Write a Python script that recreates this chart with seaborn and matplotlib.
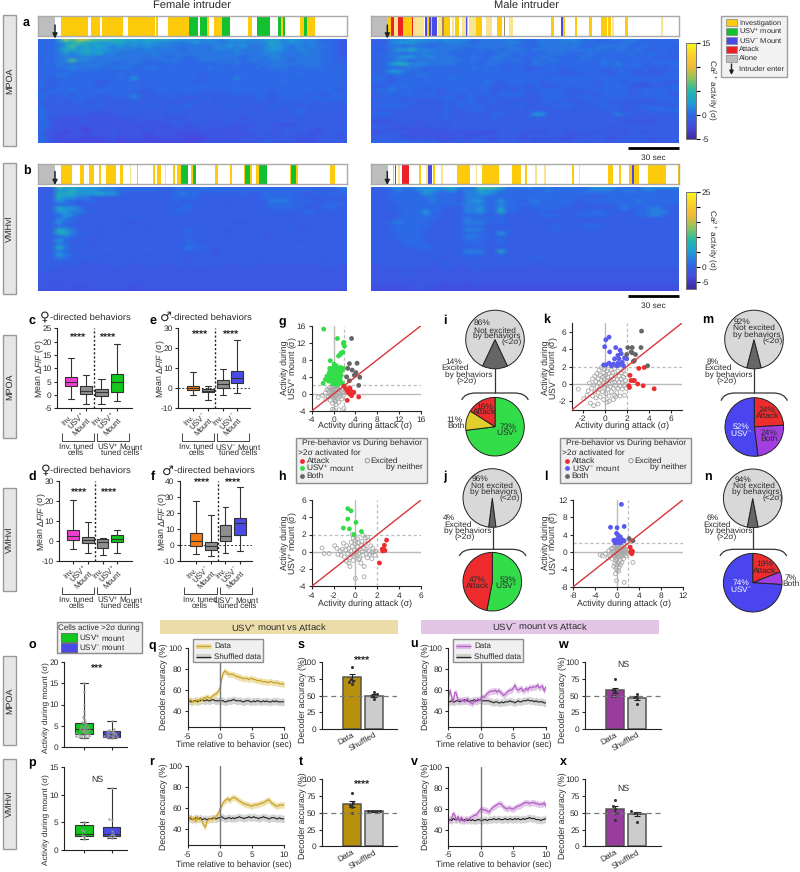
import numpy as np
import pandas as pd
import seaborn as sns
import matplotlib
matplotlib.use("Agg")
import matplotlib.pyplot as plt
from matplotlib.colors import LinearSegmentedColormap
from matplotlib.patches import Rectangle, PathPatch
from matplotlib.path import Path

# Behavior timelines (sec, out of 180)
female_a = {
    "inv": [(13.6, 29.1), (31.1, 36.1), (37.3, 49.3), (52.6, 68), (68.7, 70.1), (75.7, 88.2), (98.5, 99.8),
            (102.9, 107), (122.3, 125), (141.8, 142.7), (152.8, 155.2), (157.1, 161.4)],
    "usvp": [(88.2, 93.2), (94.6, 98.5), (107, 111.7), (127.6, 135.5), (140.2, 141.8), (142.7, 144.1), (155.2, 157.1)],
}
male_a = {
    "inv": [(9.7, 11.7), (18.7, 23.9), (36, 36.2), (43, 46.3), (49.2, 51.5), (56.2, 57), (61.6, 64.7), (68.5, 69.5),
            (73.9, 76.8), (81, 81.6), (105.2, 106.9), (110.8, 111.2), (112.4, 113.3), (119.4, 120.5), (127.5, 128.9),
            (134.3, 137.6), (138.6, 140), (148.5, 149.9), (32.9, 34), (35.2, 36)],
    "pale": [(13.6, 15.7), (24.7, 31.3), (39.1, 41.4), (47.2, 48.8), (53.1, 55.4), (57.3, 61.4), (67.3, 71), (80.5, 82.8),
             (140.6, 141.7), (169.1, 170.5)],
    "usvm": [(31.7, 32.9), (34, 35.2), (36, 38.5), (55.6, 56.2), (111.2, 112.4)],
    "attack": [(11.7, 13.6), (15.7, 18.7), (24.1, 24.7)],
    "mix": [(41.6, 43), (77.8, 78.3)],
}
female_b = {
    "inv": [(13.6, 20), (24.3, 26.8), (29.7, 32.4), (35.3, 36.7), (39.6, 45.2), (48, 49.7), (57.7, 58.5), (67.2, 68.2),
            (69.5, 71.9), (79, 79.8), (81, 83.1), (89.3, 90.3), (103.3, 104.7), (112.2, 113.4), (120.2, 120.8),
            (123.9, 124.5), (127.2, 128.6), (147, 147.6), (150.7, 151.7), (170.5, 173.2)],
    "pale": [(53.4, 54.2), (74, 74.6)],
    "usvp": [(83.1, 87.2), (90.3, 92.4), (120.8, 123.9), (128.6, 133.8), (147.6, 150.7)],
}
male_b = {
    "inv": [(13.2, 13.8), (28, 29.4), (36.2, 37.3), (50.2, 58.1), (64.9, 74.6), (82.4, 87.7), (90, 91.2), (117.6, 118.8),
            (138.6, 141.1), (145, 146.2), (150.7, 152.2), (153.6, 156.5), (161.9, 172), (179.2, 180)],
    "pale": [(16.1, 16.9), (32.1, 33.2), (41, 42.2), (61.2, 62.2), (95.8, 96.8), (101.3, 102.3), (121.3, 122.1)],
    "usvm": [(14, 15), (33.2, 36), (152.2, 153.6)],
    "attack": [(18.3, 22.4)],
}
alone_sec = (0, 10)

# Heatmap cells as hex levels, each row is one band of cells, each char about 4 sec
levels_a = [-3.5, -2.5, -1.6, -0.8, 0, 0.7, 1.4, 2.4, 3.8, 6, 9]
levels_b = [-4.5, -3.2, -2.2, -1.2, -0.2, 1, 2.5, 4.5, 7, 11, 17]
heat_female_a = [
    "4447a9aa99988887888877766766777667776775654433",
    "4446889887788777776665676665666666876766654432",
    "4445797878767676766655555566767556776565655433",
    "4446887877766655655554555566565556776566554433",
    "4445767878665555565555555555565556665556554432",
    "4445656665555555555455455555554555665555554443",
    "3445696655555555445554445555554555565455554433",
    "4445555555544554444454444445454445555555554444",
    "4445565555455544554444444544444454555445554444",
    "3444454544444444444444444444444444445444444443",
    "4445544444445444444444443444444444444454444444",
    "3434444444444474444444443444464444444444444444",
    "4434444443344443444444434444444444445444444443",
    "4434444443444444444444444444444444444444444444",
    "4344454444444444344444444444444444444444444434",
    "4444444344444443344434443333444444344444434444",
    "4433434443344464333443334334343344344443443443",
    "4434344334333343334333333433334344334444444444",
    "3333334333333333433333433334333333343334333333",
    "4433333434333343343434433333433333433433343433",
    "4433333333333333333343333333333333333344333333",
    "4433333322233333333333333333333333333343333333",
    "4423222222222323333232333333332333333333333333",
    "3432223322222233223333333323333333333333333333",
    "4432222222322222222233233233323233322233333333",
    "4422222122222222322222223322222333333333323333",
    "4322122122232222222222222222222333323333223333",
    "4321222222232222122221112232222233233323233323",
    "4422121111221222112122111222223323333322233333",
    "4421111111111111111111112222222233322222223333",
]
heat_male_a = [
    "4445667767676664555555444555666454455555445444",
    "3336777665566654555566544655656544444554444444",
    "4445545544555555555555444555555445555544544443",
    "4335778666555544545455545555555555545545434434",
    "4445545565554444444554544455544454444454454444",
    "3345677566555445445554444554444554444444443433",
    "4444654555555545445545435455444444544444444444",
    "4347886665555444455444445544444444546445344444",
    "4444455544444445444434433444344444444444434344",
    "3347754444444444454444434444334444334433433343",
    "4444544554444444444444444434334344434443333444",
    "4443444444445444444444444444444444444444444444",
    "4443444444444444454344444344444443444344344333",
    "3334454444444444443344434333444443444432233344",
    "4446444434344443443333434444434344444434444444",
    "4444444344334444443444433444433333444433444433",
    "3344344444444344343444433444434443444444444433",
    "4443433333344344334333333344333344434333334444",
    "3344434333343444344333433443443333433333333334",
    "4444443333343434433343433334443434444334444434",
    "3333333333343334433333333333333333333333344445",
    "4444333333343333334433337733333333336433333333",
    "3333333333343333334333343333333333333333333334",
    "2222333233323333333333333333333333333323223333",
    "3333333333334333333333333333333333333333333333",
    "3332222222323333333333333333333333323333333333",
    "2233332222223222222333323233323332333233233333",
    "3333322222222322323333233333323233323333333333",
    "3333332323222323332333232323223333323333323333",
    "4444454444333333333333333333333333333333333333",
]
heat_female_b = [
    "4449887777665555554556556655555555555555555566",
    "4447787776665555554455555555555555555555544455",
    "4448887778775444444456554444445445555544454555",
    "4448776644444444444455554444444445555554444444",
    "4447654554444444444454444443444444666545444444",
    "4445554444444444444444544444444444555554445554",
    "4448776444444444344445544444344444555544445544",
    "4447766544444444444455444444444444444445544444",
    "4445765444443444444444444444444444444444444444",
    "4446654444444444444444444444444444444344444444",
    "4447554444444334444444444444433444444444444444",
    "4445544444443444444444444444444444444444444444",
    "4448764443444444344444544444344444344433444444",
    "4448865444444344444444544444344444444444444444",
    "4445654443444444444444444444444443344444444444",
    "4447544434444444344444544444344444444433444444",
    "4446544444444444444444544444444444444444444444",
    "4448644434444344444444655444434444444444444444",
    "4446544444444444444444444434444444444444444444",
    "4447654444344444344444444434444444344434444444",
    "4446544443444434444444344444444434444444443444",
    "4444444344444444444444344444444444444444444444",
    "4444433343344333343344344433333433333333344433",
    "4443333333333333333333333333333333333333333333",
    "3333333333333333333333333333333333333333333333",
    "3333333333333333333333333333333333333333333333",
    "3333333333333333333333333333333333333333333333",
    "3332333333333333333333333333333333333333333333",
    "3333332333333323333333333333333333333333333333",
    "2222222222222222222222222222222222222222222222",
]
heat_male_b = [
    "5556766767788766999866676665666567776555777777",
    "4445655677667566877655555565555566665665665555",
    "4445555576555466776555555555555555555555555555",
    "4445555556555466655555555555555544555555555555",
    "4444555556555467755755456555554455555556555555",
    "4444555555555566655655555555554444445555555554",
    "4444455555544466755755445555444444445655566444",
    "4444555575544466755855444544444455544445566644",
    "4443455565444455544544444555445555544445566444",
    "4444555555444465555544444444444444444444444444",
    "4445655554444466654544444444444444444444444444",
    "4444555554444455544444444445444555444444444444",
    "4445555544444466644444444445444444444444444444",
    "4444555544444455544754444444444444444444444444",
    "4444555544444466554544444444444444444444444444",
    "4444455544444455544544444444444444444444444444",
    "4444455554444455544544444444444444444444444444",
    "4444444555444444444444444444444444444444444444",
    "4444444444444466644844444444444444444444444444",
    "4444444444444455544544444444444444444444444444",
    "4444444444434444444444445444444444444444444444",
    "4444444443444444444444444444444444444444444444",
    "3344444444344344444444443344444444444444444444",
    "3333333333343334433333333333333333333333333333",
    "3333344333333333333333333333333333333333333333",
    "3333333333333333333333333333333333333333333333",
    "3333333333333333333333333333333333333333333333",
    "3333333333323323333333333333333333333333333333",
    "2222223332222222222222222222222222222222222222",
    "2222222222222222222222222222222222222222222222",
]

# Box summaries: min, q1, median, q3, max
box_c = [[-1.5, 3.2, 5, 6.6, 14], [-3.5, 0.2, 1.6, 3.5, 7.4], [-3.5, -0.4, 1.2, 2.1, 5.8], [-2.4, 1.2, 4.7, 8, 19.2]]
box_e = [[-3.6, -1, 0.3, 1.3, 8], [-6, -2, -1.2, -0.5, 1.2], [-3.2, 0.3, 2.2, 4, 9.8], [-2.5, 2.8, 5, 8.5, 24]]
box_d = [[-4, 0.5, 2.8, 5.5, 20.5], [-6, -1, 0.5, 2, 9.6], [-6.8, -3.2, -0.5, 1, 1.8], [-6, -0.5, 1, 3.2, 5.6]]
box_f = [[-5.5, -0.5, 2.5, 7.5, 28], [-6.5, -3, -0.2, 2, 19], [-4.8, 2.5, 6, 13, 24], [-3.5, 6.5, 14, 17, 36.5]]
box_o = [[2, 2.9, 4.3, 5.7, 15], [2, 2.3, 3, 3.8, 6]]
box_p = [[2, 2.5, 3, 4.5, 5], [2.2, 2.5, 3, 4.1, 11.1]]
cells_o_p = [2.1, 2.2, 2.3, 2.4, 2.5, 2.6, 2.7, 2.8, 2.9, 3, 3.1, 3.2, 3.4, 3.5, 3.7, 3.9, 4, 4.2, 4.3, 4.5, 4.7, 4.9, 5,
             5.3, 5.5, 5.8, 6, 6.5, 7, 7.5, 8.5, 10, 13, 15]
cells_o_m = [2, 2.1, 2.2, 2.3, 2.4, 2.5, 2.6, 2.7, 2.9, 3, 3.1, 3.2, 3.4, 3.5, 3.7, 3.8, 4, 4.2, 6]
cells_p_p = [2, 2.5, 2.8, 3.4, 3.6, 5]
cells_p_m = [2.2, 2.3, 2.5, 2.7, 3, 3.5, 5.5, 5.7, 11.1]

# Scatter points (attack activity, mount activity)
g_usv = [(-1.8, 15.2), (0.7, 13), (1.8, 11.8), (2, 11.2), (1.9, 12.1), (1.7, 9.8), (1.2, 9.2), (0.9, 8.9), (1.4, 9.6),
         (-0.6, 7.8), (0.1, 7), (-0.7, 6), (-0.4, 5.6), (0, 6.2), (0.3, 5.8), (0.5, 6.6), (0.8, 5.6), (1, 6), (1.3, 6.2),
         (1.5, 5.4), (1.8, 6), (-0.8, 5), (-0.4, 4.6), (-0.1, 5), (0.2, 4.8), (0.5, 5.2), (0.8, 4.6), (1.1, 5), (1.4, 4.4),
         (-1.2, 4.2), (-0.7, 3.8), (-0.3, 4), (0, 3.6), (0.3, 4.2), (0.6, 3.8), (0.9, 4), (1.2, 3.6), (-1.5, 3.4), (-0.9, 3),
         (-0.5, 3.2), (-0.1, 2.9), (0.3, 3.1), (0.7, 3), (1, 3.2), (1.4, 2.8), (-1.9, 2.5), (-0.2, 2.4), (0.4, 2.5), (0.8, 2.3),
         (1.1, 2.6), (1.6, 2.4), (0.5, 2.2)]
g_att = [(2.2, 1.3), (2.4, 0.9), (2.6, 0.4), (2.8, 1.1), (2.9, 0.2), (3.1, -0.1), (3.2, 0.6), (3.3, -0.4), (2.5, -1.5),
         (3.7, 0.4), (4.6, -0.7), (1.9, 1.8), (3, 1.4)]
g_both = [(3.3, 13), (2.9, 7.1), (4.3, 7.2), (2.6, 6), (3.4, 5.6), (4.1, 5), (2.4, 4), (4.8, 3.9), (3.8, 4.4), (2.9, 3.1), (4.6, 2)]
g_none = [(-2.8, -0.8), (-2, -0.3), (-1.5, 0.2), (-1.2, 1.1), (-1, -0.8), (-0.8, 0.5), (-0.7, 1.5), (-0.6, -1.5), (-0.5, 0.3),
          (-0.4, 1), (-0.3, -0.4), (-0.3, 1.8), (-0.2, -2.2), (-0.2, 0.6), (-0.1, 1.4), (0, -0.9), (0, 0.2), (0.1, 1), (0.1, -3.8),
          (0.2, 1.7), (0.2, -1.4), (0.3, 0.4), (0.4, -0.5), (0.4, 1.2), (0.5, -2.5), (0.5, 0.8), (0.6, -0.2), (0.7, 1.6), (0.7, -1),
          (0.8, 0.3), (0.9, -0.7), (1, 1), (1, -3.7), (1.1, 0.1), (1.2, 1.7), (1.3, -0.5), (1.4, 0.6), (1.5, -1.2), (1.6, 0.2),
          (1.7, 1.3), (1.8, -0.3), (1.9, -3.4), (-0.5, -0.6), (-0.1, -0.2), (0.3, -1.8), (0.6, 1.9), (-0.9, 0.9), (-1.4, -1.2),
          (0.9, -2), (-0.2, -3.6)]
h_usv = [(-0.7, 5), (-0.4, 4.75), (-0.7, 3.8), (0.05, 3.4), (-1.1, 2.75), (-0.55, 2.65), (0.55, 2.35), (-0.15, 2)]
h_att = [(2.85, 1.35), (2.65, 0.75), (2.45, 0.3), (2.6, 0.3), (2.7, 0.15), (2.5, 0.1), (2.2, -1.3)]
h_none = [(-3.05, 0.45), (-2.85, -0.2), (-2.4, -0.2), (-1.9, 0.7), (-1.7, 0.4), (-1.6, -0.3), (-1.4, 0.1), (-1.3, -0.4), (-1.2, 0.3),
          (-1.1, 1), (-1, -0.6), (-0.9, 0.2), (-0.8, 0.7), (-0.7, -0.2), (-0.6, -1.3), (-0.6, 0.4), (-0.5, -0.7), (-0.4, 0.1), (-0.4, 1.1),
          (-0.3, -0.3), (-0.3, 0.6), (-0.2, 1.6), (-0.2, -1), (-0.1, 0.2), (-0.1, -0.5), (0, 0.9), (0, -3.1), (0, 1.3), (0.1, 0), (0.1, -0.4),
          (0.2, 0.6), (0.2, 1.5), (0.3, -0.2), (0.3, 1), (0.4, -0.8), (0.4, 0.3), (0.5, 0.8), (0.5, -1.3), (0.6, 0), (0.6, 1.2), (0.7, -0.4),
          (0.8, 0.4), (0.8, -2.9), (0.8, -1.7), (0.9, 0.9), (1, -0.2), (1, 0.3), (1.1, -0.7), (1.2, 1.3), (1.2, 0.1), (1.3, -0.3), (1.4, 0.7),
          (1.5, -0.1), (1.5, -0.8), (1.6, 0.4), (1.7, 0), (1.8, -0.4), (1.9, 0.1), (-0.3, 2), (-0.1, 1.9), (0.9, 1.6), (1.1, 1.7), (-0.5, -1.7),
          (-0.8, -1.1), (0.3, -0.9), (0.7, 1.9)]
k_usv = [(0.4, 5.4), (0.1, 5.1), (0, 4.3), (1, 4.2), (1.4, 3.9), (0.45, 3.7), (1.5, 3.5), (1.2, 3.3), (1.8, 3), (2, 2.9), (1.3, 2.9), (0.9, 2.9),
         (1.6, 2.5), (1.2, 2.4), (0.8, 2.3), (0.4, 2.4), (-0.1, 2.2), (0.1, 2.2), (1.3, 2.2), (1.7, 2.1), (1.1, 2.1), (0.6, 2.1)]
k_att = [(3.1, 1.8), (3.6, 1.9), (2.3, 1), (2.4, 0.4), (2.6, 0.4), (2.7, 0.4), (3, 0), (3.5, -0.2), (2.2, -0.2), (2.25, -0.4), (4.5, -0.55)]
k_both = [(3.35, 6.1), (2.1, 4.2), (2.5, 4.2), (3.3, 4.2), (2.4, 3.7), (2.5, 3.6), (2, 3.4), (2.8, 3.4), (2.7, 2.7), (2.6, 2.6), (3.9, 2.1)]
k_none = [(-2.4, -0.6), (-1.9, -1.7), (-1.6, -1.3), (-1.5, -0.8), (-1.4, 0.1), (-1.3, -2.2), (-1.2, -0.5), (-1.1, 0.6), (-1.1, -1.4), (-1, -0.1),
          (-1, -2.5), (-0.9, 0.9), (-0.9, -0.9), (-0.8, 0.3), (-0.8, -1.6), (-0.7, 1.2), (-0.7, -0.3), (-0.6, 0.6), (-0.6, -1), (-0.6, -2.3), (-0.5, 1.6),
          (-0.5, 0.1), (-0.5, -0.6), (-0.4, 1), (-0.4, -1.5), (-0.3, 0.4), (-0.3, -0.2), (-0.3, 1.9), (-0.2, 0.8), (-0.2, -0.9), (-0.1, 1.3), (-0.1, 0.2),
          (-0.1, -1.8), (0, 0.6), (0, -0.4), (0, 1.7), (0.1, 1), (0.1, -1.1), (0.1, -0.1), (0.2, 0.3), (0.2, 1.5), (0.2, -2.1), (0.3, 0.8), (0.3, -0.6), (0.4, 1.2),
          (0.4, 0), (0.4, -1.4), (0.5, 0.5), (0.5, -0.3), (0.6, 1.6), (0.6, 0.9), (0.6, -0.9), (0.7, 0.1), (0.7, 1.3), (0.8, -0.5), (0.8, 0.6), (0.9, 1.8), (0.9, -1.3),
          (0.9, 0.2), (1, 1), (1, -0.2), (1.1, 0.5), (1.1, -1), (1.2, 1.5), (1.2, -0.5), (1.3, 0.2), (1.3, 0.9), (1.4, -0.2), (1.4, -1.4), (1.5, 0.6), (1.5, 1.3),
          (1.6, -0.6), (1.6, 0.1), (1.7, 0.8), (1.7, 1.6), (1.8, -0.1), (1.8, -1.3), (1.9, 0.4), (1.9, 1.1), (2, -0.5), (1, -1.5), (0.4, -2), (0.8, -1.8)]
l_usv = [(0.8, 11), (-1.2, 5.7), (0, 5.6), (1.3, 5.9), (-0.1, 4.3), (0.2, 3.9), (0.3, 3.3), (0.6, 3.5), (-0.6, 2.7), (-0.4, 2.3), (-0.2, 2.8), (0, 2.3),
         (0.2, 2.8), (0.4, 2.4), (0.6, 2.7), (0.8, 2.3), (1, 2.8), (1.3, 2.6), (0.5, 2.1), (-0.3, 2.1)]
l_att = [(2.4, 1.1), (2.6, 0.3), (2.7, -0.1), (2.7, -0.4), (2.5, 0), (2.8, 0.2)]
l_both = [(2.2, 3.1), (2.9, 2.6)]
l_none = [(-3.1, -0.6), (-2.7, -0.9), (-2.1, -0.4), (-1.7, -1.4), (-1.5, 0.3), (-1.3, -0.9), (-1.1, 0.7), (-1, -0.3), (-0.9, -1.5), (-0.8, 0.9),
          (-0.7, 0), (-0.6, -0.8), (-0.5, 1.3), (-0.5, 0.3), (-0.4, -1.2), (-0.3, 0.7), (-0.3, -0.4), (-0.2, 1.7), (-0.2, -2), (-0.1, 0.2), (-0.1, -0.9), (0, 1.1),
          (0, -3), (0, -1.6), (0.1, 0.5), (0.1, -0.3), (0.2, -2.5), (0.2, 1.5), (0.3, -1.2), (0.3, 0.1), (0.4, 1), (0.4, -3.5), (0.5, -0.7), (0.5, 0.4), (0.6, -1.9),
          (0.6, 1.6), (0.7, 0), (0.7, -1.1), (0.8, 0.8), (0.8, -0.4), (0.9, -2.4), (0.9, 0.3), (1, 1.3), (1, -0.9), (1.1, -0.1), (1.1, 0.6), (1.2, -1.5), (1.3, 0.2),
          (1.3, 1.1), (1.4, -0.5), (1.5, 0.5), (1.6, -0.9), (1.7, 0.1), (1.8, 1.4), (1.9, -0.3), (2.1, 0.5), (2.9, -2.4), (0, -4.2), (-0.3, -5), (-0.1, -6.6),
          (1.3, -7), (-0.2, -3.7), (0.3, -4.4), (-0.6, -3.3), (0.6, -3), (-0.4, -2.6)]

# Pie shares
pie_i_top, pie_j_top, pie_m_top, pie_n_top = [14, 86], [4, 96], [8, 92], [6, 94]
pie_i = [73, 11, 16]
pie_j = [53, 47]
pie_m = [24, 24, 52]
pie_n = [19, 7, 74]

# Decoder traces, one value per 0.25 sec from -5 to 10
time_sec = np.arange(-5, 10.25, 0.25)
q_data = [49, 50, 51, 49, 50, 49, 51, 50, 52, 50, 53, 52, 54, 53, 52, 54, 55, 56, 57, 59, 62, 70, 76, 78, 77, 75, 75, 75, 75, 74, 73, 73,
          72, 72, 71, 71, 71, 71, 70, 71, 71, 70, 70, 69, 69, 69, 68, 68, 68, 68, 67, 68, 68, 67, 67, 67, 67, 66, 66, 66, 65]
q_shuf = [49, 50, 49, 49, 50, 50, 49, 50, 50, 51, 50, 50, 51, 50, 50, 51, 51, 50, 50, 50, 50, 50, 50, 49, 49, 50, 50, 50, 51, 51, 50, 50,
          50, 50, 49, 49, 50, 50, 50, 49, 49, 50, 49, 50, 50, 49, 49, 50, 49, 50, 49, 49, 49, 50, 49, 50, 49, 49, 49, 49, 49]
r_data = [47, 50, 52, 49, 51, 47, 52, 49, 50, 47, 44, 42, 48, 49, 50, 49, 50, 51, 53, 55, 59, 62, 65, 67, 68, 69, 67, 69, 70, 70, 69, 68,
          67, 66, 65, 64, 64, 63, 63, 62, 62, 63, 63, 63, 64, 64, 65, 65, 66, 67, 68, 67, 65, 64, 63, 62, 62, 63, 63, 63, 63]
r_shuf = [50, 51, 50, 49, 50, 51, 50, 50, 51, 49, 50, 50, 49, 50, 50, 50, 51, 50, 50, 51, 51, 52, 51, 50, 50, 51, 51, 50, 51, 50, 51, 51,
          52, 51, 51, 50, 51, 51, 52, 51, 51, 52, 51, 51, 50, 51, 51, 52, 51, 51, 50, 50, 51, 51, 51, 50, 50, 51, 50, 50, 50]
u_data = [52, 60, 54, 48, 58, 57, 50, 51, 50, 51, 49, 51, 52, 49, 48, 47, 50, 49, 52, 50, 52, 54, 53, 55, 57, 58, 59, 59, 59, 60, 58, 60,
          58, 57, 55, 56, 58, 59, 60, 60, 62, 65, 61, 60, 61, 62, 59, 60, 62, 60, 63, 62, 63, 63, 63, 65, 62, 63, 64, 59, 63]
u_shuf = [49, 49, 50, 49, 49, 50, 50, 49, 50, 50, 51, 50, 50, 49, 50, 50, 51, 50, 50, 51, 51, 50, 50, 50, 50, 50, 49, 49, 48, 49, 49, 48,
          48, 49, 48, 49, 49, 49, 50, 49, 49, 48, 49, 50, 49, 49, 50, 50, 50, 51, 50, 50, 50, 49, 50, 49, 49, 49, 49, 48, 48]
v_data = [50, 49, 51, 56, 54, 49, 53, 48, 52, 50, 48, 51, 50, 51, 52, 53, 54, 54, 56, 58, 60, 60, 59, 59, 58, 57, 59, 61, 62, 63, 64, 65,
          65, 64, 62, 61, 60, 61, 61, 60, 60, 61, 62, 63, 63, 64, 65, 66, 66, 66, 65, 66, 66, 66, 65, 65, 64, 65, 64, 66, 63]
v_shuf = [50, 50, 49, 51, 50, 50, 51, 50, 50, 49, 50, 50, 49, 50, 49, 50, 49, 49, 50, 50, 49, 49, 50, 50, 49, 50, 50, 50, 51, 50, 50, 51,
          50, 50, 50, 51, 50, 50, 51, 50, 50, 51, 50, 51, 50, 50, 51, 50, 51, 51, 52, 51, 51, 51, 50, 50, 50, 49, 50, 50, 51]
sem_data, sem_shuf = 3, 3.5

# Decoder accuracy bars
bar_names = ["Data", "Shuffled"]
bars_s, bars_t, bars_w, bars_x = [78, 50], [63, 52], [58, 46], [55, 48]
sem_s, sem_t, sem_w, sem_x = [4, 2], [5, 0.5], [3.5, 3], [5.5, 3]
dots_s = [[93, 75, 72, 70, 68], [56, 52, 50, 50, 45]]
dots_t = [[80, 65, 62, 58, 50], [52, 52, 53, 53, 52]]
dots_w = [[75, 58, 55, 50, 49], [52, 48, 47, 38]]
dots_x = [[69, 60, 56, 50, 40], [52, 50, 50, 49, 37]]

W, H = 800, 872
INV, PALE, USVP, USVM, ATT = "#fdca0c", "#f9e490", "#12c030", "#4a4ae6", "#ee2026"
MAGENTA, ORANGE, GRAY, GREEN2 = "#f03fd0", "#f47b16", "#8f8f8f", "#12c81e"
PGREEN, PRED, PBLUE, PPURP, PYEL = "#33dd4a", "#ee2c2e", "#4a45ee", "#a33fe0", "#e3cf2c"
GOLD, PURPLE = "#b8900c", "#983c9e"
DARK = "#222222"
INK = "#2a2a2a"

sns.set_theme(style="ticks")
plt.rcParams["font.family"] = ["Liberation Sans", "DejaVu Sans"]
plt.rcParams["mathtext.fontset"] = "custom"
plt.rcParams["mathtext.rm"] = "Liberation Sans"
plt.rcParams["mathtext.it"] = "Liberation Sans:italic"
plt.rcParams["mathtext.default"] = "regular"
plt.rcParams["axes.unicode_minus"] = False
plt.rcParams["axes.linewidth"] = 0.8
plt.rcParams["axes.edgecolor"] = DARK
plt.rcParams["text.hinting"] = "no_hinting"

parula = LinearSegmentedColormap.from_list("parula_like", [
    (0, "#3b2a9e"), (0.125, "#4749e0"), (0.25, "#2d68e6"), (0.375, "#1f9ad8"), (0.5, "#22b9aa"),
    (0.625, "#86c560"), (0.75, "#f0b93a"), (0.875, "#fbd02c"), (1, "#f9fb15")])

fig = plt.figure(figsize=(W / 100, H / 100), dpi=100)
ov = fig.add_axes([0, 0, 1, 1], zorder=20)
ov.set_xlim(0, W)
ov.set_ylim(H, 0)
ov.axis("off")


def px_axes(x0, y0, x1, y1):
    return fig.add_axes([x0 / W, 1 - y1 / H, (x1 - x0) / W, (y1 - y0) / H])


def txt(x, y, s, size=6, ha="center", va="center", rot=0, **kw):
    kw.setdefault("color", INK)
    ov.text(x, y, s, fontsize=size, ha=ha, va=va, rotation=rot, **kw)


def seg(xs, ys, color=DARK, lw=0.8, **kw):
    ov.plot(xs, ys, color=color, lw=lw, solid_capstyle="butt", **kw)


def box(x0, y0, x1, y1, fc="#e6e6e6", ec="#9a9a9a", lw=1.0):
    ov.add_patch(Rectangle((x0, y0), x1 - x0, y1 - y0, fc=fc, ec=ec, lw=lw))


def style_ticks(ax, size=6):
    ax.tick_params(labelsize=size, length=2.5, width=0.8, pad=1.5, colors=INK)


# Panel letters
letters = {"a": (26.5, 23), "b": (26.5, 171), "c": (32, 321), "d": (32, 477), "e": (153, 321), "f": (153, 477),
           "g": (282, 321), "h": (282, 477), "i": (445, 321), "j": (445, 477), "k": (547, 320), "l": (546, 477),
           "m": (708, 320), "n": (708, 477), "o": (32, 645), "p": (32, 762), "q": (152, 645), "r": (152, 762),
           "s": (301, 645), "t": (301, 762), "u": (414, 645), "v": (414, 762), "w": (563, 645), "x": (563, 762)}
for name, (lx, ly) in letters.items():
    txt(lx, ly, name, size=9, fontweight="bold", color="black")

# Side labels
for (y0, y1, lab) in [(15, 146, "MPOA"), (163, 294, "VMHvl"), (335, 438, "MPOA"), (488, 591, "VMHvl"),
                      (656, 745, "MPOA"), (759, 849, "VMHvl")]:
    box(2.7, y0, 16, y1)
    txt(9.4, (y0 + y1) / 2, lab, size=6.5, rot=90)

txt(192, 6, "Female intruder", size=8)
txt(526, 6, "Male intruder", size=8)


def ethogram(x0, y0, x1, y1, spans):
    ax = px_axes(x0, y0, x1, y1)
    ax.set_xlim(0, 180)
    ax.set_ylim(0, 1)
    ax.set_xticks([])
    ax.set_yticks([])
    for sp in ax.spines.values():
        sp.set_color("#aaaaaa")
        sp.set_linewidth(1)
    ax.broken_barh([(alone_sec[0], alone_sec[1] - alone_sec[0])], (0, 1), color="#bdbdbd", lw=0)
    colors = {"inv": INV, "pale": PALE, "usvp": USVP, "usvm": USVM, "attack": ATT, "mix": "#9c8a6a"}
    for key, intervals in spans.items():
        ax.broken_barh([(a, b - a) for a, b in intervals], (0, 1), color=colors[key], lw=0)


def heat(x0, y0, x1, y1, rows, levels, vmin, vmax, cax=None, ticks=None, ticklabels=None):
    lookup = [[levels[int(c, 16)] for c in r.ljust(46, r[-1])[:46]] for r in rows]
    df = pd.DataFrame(lookup)
    ax = px_axes(x0, y0, x1, y1)
    sns.heatmap(df, ax=ax, cmap=parula, vmin=vmin, vmax=vmax, xticklabels=False, yticklabels=False,
                cbar=cax is not None, cbar_ax=cax, rasterized=True, shading="gouraud")
    # gouraud cells run between the centres, so the last band needs trimming
    ax.set_xlim(0, df.shape[1] - 1)
    ax.set_ylim(df.shape[0] - 1, 0)
    if cax is not None:
        cax.set_yticks(ticks)
        cax.set_yticklabels(ticklabels)
        cax.tick_params(labelsize=6, length=3, width=0.8, pad=1, color="black", labelcolor=INK)
        for sp in cax.spines.values():
            sp.set_visible(True)
            sp.set_linewidth(0.6)
            sp.set_color("#777777")


ethogram(38, 16, 346.7, 36, female_a)
ethogram(370.7, 16, 679.3, 36, male_a)
ethogram(38, 163.5, 346.7, 184, female_b)
ethogram(370.7, 163.5, 679.3, 184, male_b)

cax_a = px_axes(685.7, 42.7, 695.7, 139.3)
cax_b = px_axes(685.7, 191.7, 695.7, 289)
heat(38, 39, 346.7, 143, heat_female_a, levels_a, -5, 15)
heat(370.7, 39, 679.3, 143, heat_male_a, levels_a, -5, 15, cax_a, [-5, 0, 5, 10, 15], ["-5", "0", "", "", "15"])
heat(38, 186.7, 346.7, 290.7, heat_female_b, levels_b, -7.2, 25)
heat(370.7, 186.7, 679.3, 290.7, heat_male_b, levels_b, -7.2, 25, cax_b, [-5, 0, 5, 10, 15, 20, 25],
     ["-5", "0", "", "", "", "", "25"])
txt(712, 90, "Ca$^{2+}$ activity (σ)", size=6, rot=270)
txt(712, 240, "Ca$^{2+}$ activity (σ)", size=6, rot=270)

for ax_x, y_top, y_bot in [(55, 25, 38.5), (387.3, 25, 38.5), (55, 171.5, 185), (387.3, 171.5, 185)]:
    ov.annotate("", xy=(ax_x, y_bot), xytext=(ax_x, y_top),
                arrowprops=dict(arrowstyle="-|>", color=DARK, lw=1.1, mutation_scale=7, shrinkA=0, shrinkB=0))

for y_bar in [148.5, 296.3]:
    seg([627.7, 679.3], [y_bar, y_bar], color="black", lw=2)
    txt(653.5, y_bar + 9.5, "30 sec", size=6)

# Behavior legend
box(721, 16, 787, 77, fc="#f2f2f2", ec="#a0a0a0", lw=1)
for y_item, col, lab in [(22.5, INV, "Investigation"), (31.5, USVP, "USV$^{+}$ mount"), (40.5, USVM, "USV$^{-}$ Mount"),
                         (49.5, ATT, "Attack"), (58.5, "#bdbdbd", "Alone")]:
    ov.add_patch(Rectangle((726, y_item - 3.5), 11, 7, fc=col, ec="#888888", lw=0.5))
    txt(739, y_item, lab, size=5.4, ha="left")
ov.annotate("", xy=(731.5, 75), xytext=(731.5, 64),
            arrowprops=dict(arrowstyle="-|>", color=DARK, lw=1, mutation_scale=6, shrinkA=0, shrinkB=0))
txt(739, 69, "Intruder enter", size=5.4, ha="left")


def box_panel(x0, y0, x1, y1, stats, colors, ylim, yticks, centers, zero=False, width=0.8, divider=None):
    ax = px_axes(x0, y0, x1, y1)
    names = [str(i) for i in range(len(stats))]
    df = pd.DataFrame({"group": np.repeat(names, 5), "value": np.concatenate(stats)})
    sns.boxplot(data=df, x="group", y="value", hue="group", palette=dict(zip(names, colors)), whis=(0, 100), width=width,
                linecolor="#333333", linewidth=0.8, saturation=1, legend=False, ax=ax, order=names)
    # x limits put the first and last boxes on their measured pixels
    step = (centers[-1] - centers[0]) / (len(stats) - 1)
    ax.set_xlim((x0 - centers[0]) / step, (x1 - centers[0]) / step)
    ax.set_ylim(*ylim)
    ax.set_yticks(yticks)
    ax.set_xlabel("")
    ax.set_ylabel("")
    sns.despine(ax=ax)
    style_ticks(ax)
    if zero:
        ax.axhline(0, color="#333333", lw=0.7, ls=(0, (2, 2)), zorder=0)
    if divider is not None:
        ax.axvline(divider, color="#222222", lw=1, ls=(0, (1.5, 1.5)), zorder=3)
    return ax


inv_mount_p = ["Inv.", "USV$^{+}$\nMount", "Inv.", "USV$^{+}$\nMount"]
inv_mount_m = ["Inv.", "USV$^{-}$\nMount", "Inv.", "USV$^{-}$\nMount"]
box_specs = [
    ((57.3, 328.3, 132, 408.3), box_c, [MAGENTA, GRAY, GRAY, GREEN2], (-5, 25), range(-5, 30, 5), (71, 116.7), False, inv_mount_p),
    ((178.3, 328.3, 250, 408.3), box_e, [ORANGE, GRAY, GRAY, USVM], (-10, 30), range(-10, 40, 10), (193.3, 237.3), True, inv_mount_m),
    ((59.3, 481.3, 132, 561.3), box_d, [MAGENTA, GRAY, GRAY, GREEN2], (-10, 30), range(-10, 40, 10), (73.3, 117.3), False, inv_mount_p),
    ((180, 481.3, 251.7, 561.3), box_f, [ORANGE, GRAY, GRAY, USVM], (-10, 40), range(-10, 50, 10), (196.3, 240), True, inv_mount_m),
]
for (rect, stats, cols, ylim, yt, cen, zero, labs) in box_specs:
    ax = box_panel(*rect, stats, cols, ylim, yt, (cen[0], cen[1]), zero=zero, divider=1.5)
    ax.set_xticks(range(4))
    ax.set_xticklabels(labs, rotation=45, ha="right", va="center", rotation_mode="anchor", fontsize=5.6, linespacing=0.8)
    ax.tick_params(axis="x", pad=3, labelsize=5.6)
    txt(rect[0] - 17.5, (rect[1] + rect[3]) / 2, "Mean Δ$\\mathit{F/F}$ (σ)", size=6.3, rot=90)

for gx, tx, ty, glyph in [(45, 49.5, 317.5, "♀"), (165.7, 170.7, 317.5, "♂"), (45.5, 49.8, 471, "♀"), (168.3, 174, 471, "♂")]:
    txt(gx, ty, glyph, size=9.5, family="DejaVu Sans")
    txt(tx, ty, "-directed behaviors", size=6.8, ha="left")
for sx, sy in [(78.3, 338), (108.5, 338), (200, 334.5), (230.7, 334.5), (79, 493), (109.3, 493), (202.3, 482.5), (232.7, 482.5)]:
    txt(sx, sy, "****", size=7.5, fontweight="bold", color="#222222")

for (bl, br, ytop, ybot) in [(62.3, 94, 433.3, 441), (97, 129.3, 433.3, 441), (182.3, 214, 433.3, 441), (217.3, 249.3, 433.3, 441),
                             (62.3, 94, 586.7, 594), (97.3, 130, 586.7, 594), (184.3, 216.7, 586.7, 594), (220, 252, 586.7, 594)]:
    seg([bl, bl, br, br], [ytop, ybot, ybot, ytop], color="#444444", lw=0.7)
for (cx, yy, top, bot) in [(76, 446.7, "Inv. tuned", "cells"), (120, 446.7, "USV$^{+}$ Mount", "tuned cells"),
                           (196.7, 446.7, "Inv. tuned", "cells"), (238, 446.7, "USV$^{-}$ Mount", "tuned cells"),
                           (76.7, 600, "Inv. tuned", "cells"), (120, 600, "USV$^{+}$ Mount", "tuned cells"),
                           (200, 600, "Inv. tuned", "cells"), (236.7, 600, "USV$^{-}$ Mount", "tuned cells")]:
    txt(cx, yy, top, size=5.8)
    txt(cx, yy + 6.3, bot, size=5.8)


def scatter_panel(rect, lim, ticks, none_pts, groups, ylim=None, yticks=None):
    ax = px_axes(*rect)
    ylim = ylim or lim
    ax.axhline(0, color="#bbbbbb", lw=1, zorder=0)
    ax.axvline(0, color="#bbbbbb", lw=1, zorder=0)
    ax.axhline(2, color="#bbbbbb", lw=0.9, ls=(0, (2.5, 2)), zorder=0)
    ax.axvline(2, color="#bbbbbb", lw=0.9, ls=(0, (2.5, 2)), zorder=0)
    nx, ny = zip(*none_pts)
    sns.scatterplot(x=list(nx), y=list(ny), s=8, facecolors="none", edgecolor="#a8a8a8", linewidth=0.6, ax=ax, zorder=2)
    for pts, col in groups:
        gx, gy = zip(*pts)
        sns.scatterplot(x=list(gx), y=list(gy), s=12, color=col, edgecolor="none", ax=ax, zorder=3)
    ax.plot([lim[0], lim[1]], [ylim[0], ylim[1]], color="#d9363a", lw=1, zorder=4)
    ax.set_xlim(*lim)
    ax.set_ylim(*ylim)
    ax.set_xticks(ticks)
    ax.set_yticks(yticks if yticks is not None else ticks)
    sns.despine(ax=ax)
    style_ticks(ax)
    return ax


DOT_GRAY = "#666666"
scatter_panel((311.7, 325.7, 421, 411), (-4, 16), range(-4, 20, 4), g_none, [(g_usv, PGREEN), (g_att, PRED), (g_both, DOT_GRAY)])
scatter_panel((311.7, 500, 421, 586.3), (-4, 6), range(-4, 8, 2), h_none, [(h_usv, PGREEN), (h_att, PRED)])
scatter_panel((571.7, 323.3, 681.7, 410), (-3, 7), range(-2, 8, 2), k_none, [(k_usv, "#5a5aee"), (k_att, PRED), (k_both, DOT_GRAY)])
scatter_panel((573.3, 500, 682.7, 586.7), (-8, 12), range(-8, 16, 4), l_none, [(l_usv, "#5a5aee"), (l_att, PRED), (l_both, DOT_GRAY)])

for cx, cy in [(365, 426), (365, 603.5)]:
    txt(cx, cy, "Activity during attack (σ)", size=6.3)
for cx, cy in [(621.7, 426), (624.5, 603.5)]:
    txt(cx, cy, "Activity during attack (σ)", size=6.3)
for lx, ly, sign in [(291, 368, "+"), (291, 543, "+"), (552, 368, "-"), (552, 543, "-")]:
    txt(lx - 6.5, ly, "Activity during", size=6.3, rot=90)
    txt(lx + 2, ly, "USV$^{%s}$ mount (σ)" % sign, size=6.3, rot=90)

# Scatter legends
for (x0, x1, tx, dot_x, open_x, by_x, sign, col) in [(296, 427.3, 362.3, 302.3, 367.3, 386, "+", PGREEN),
                                                      (560, 690.7, 626, 567.3, 631, 650, "-", "#5a5aee")]:
    box(x0, 438.3, x1, 482.5, fc="#efefef", ec="#8e8e8e", lw=1)
    txt(tx, 443.5, "Pre-behavior vs During behavior", size=6)
    txt(x0 + 2.3, 452.7, ">2σ activated for", size=6, ha="left")
    for yy, c, lab in [(460.7, PRED, "Attack"), (468, col, "USV$^{%s}$ mount" % sign), (475.7, DOT_GRAY, "Both")]:
        ov.scatter([dot_x], [yy], s=12, color=c, lw=0)
        txt(dot_x + 4.2, yy, lab, size=6, ha="left")
    ov.scatter([open_x], [460.7], s=10, facecolors="none", edgecolors="#8a8a8a", lw=0.6)
    txt(open_x + 3.5, 460.7, "Excited", size=6, ha="left")
    txt(by_x, 467.7, "by neither", size=6, ha="left")


def pie_at(cx, cy, r, values, colors, start):
    pad = 1.06
    ax = px_axes(cx - r * pad, cy - r * pad, cx + r * pad, cy + r * pad)
    ax.pie(values, colors=colors, startangle=start, counterclock=False, radius=1,
           wedgeprops=dict(edgecolor="#222222", linewidth=0.7))
    ax.set_xlim(-pad, pad)
    ax.set_ylim(-pad, pad)


def brace(x0, x1, ytop, ybot):
    verts = [(x0, ybot), (x0 + 3, ytop), (x0 + 14, ytop), (x1 - 14, ytop), (x1 - 3, ytop), (x1, ybot)]
    codes = [Path.MOVETO, Path.CURVE3, Path.CURVE3, Path.LINETO, Path.CURVE3, Path.CURVE3]
    ov.add_patch(PathPatch(Path(verts, codes), fc="none", ec="#333333", lw=0.9))


for (cx, cy, share) in [(495, 339.5, pie_i_top), (492.3, 498, pie_j_top), (754, 339.5, pie_m_top), (752.7, 498.3, pie_n_top)]:
    pie_at(cx, cy, 29.3, share, ["#666666", "#d8d8d8"], 270 + share[0] * 1.8)
pie_at(495, 426.7, 29.3, pie_i, [PGREEN, PYEL, PRED], 90)
pie_at(492.3, 581.7, 29.3, pie_j, [PGREEN, PRED], 90)
pie_at(754.3, 427, 29.3, pie_m, [PRED, PPURP, PBLUE], 90)
pie_at(752.7, 582.7, 29.3, pie_n, [PRED, PPURP, PBLUE], 90)

brace(461.7, 528.3, 393, 400)
brace(459.3, 526, 549.3, 556)
brace(721, 787.3, 393, 400.7)
brace(720, 786.7, 549.3, 556)
seg([495, 495], [368, 393], color="#333333", lw=0.9)
seg([492.5, 492.5], [527, 549.3], color="#333333", lw=0.9)
seg([754, 754], [368, 393], color="#333333", lw=0.9)
seg([752.7, 752.7], [527, 549.3], color="#333333", lw=0.9)

pie_text = [
    (482, 323, "86%"), (495, 330.7, "Not excited"), (496.7, 336.7, "by behaviors"), (511.7, 342.7, "(<2σ)"),
    (454, 361.7, "14%"), (455.3, 368.3, "Excited"), (469, 375, "by behaviors"), (466.7, 381, "(>2σ)"),
    (484.3, 406.7, "16%"), (484.3, 411.7, "Attack"), (508, 426.7, "73%"), (507.3, 433, "USV$^{+}$"),
    (454.3, 420, "11%"), (456, 426, "Both"),
    (480, 479, "96%"), (491.7, 485.7, "Not excited"), (494, 492.3, "by behaviors"), (510, 498.3, "(<2σ)"),
    (449, 518.3, "4%"), (457.7, 524.7, "Excited"), (467.7, 531, "by behaviors"), (465, 537.3, "(>2σ)"),
    (476.7, 580, "47%"), (477.3, 586, "Attack"), (508, 580, "53%"), (506.7, 586, "USV$^{+}$"),
    (742.3, 322.3, "92%"), (754, 328.3, "Not excited"), (756.7, 335, "by behaviors"), (772.3, 341.3, "(<2σ)"),
    (712.7, 361.7, "8%"), (718.3, 368.3, "Excited"), (729, 375, "by behaviors"), (726.7, 381, "(>2σ)"),
    (767.3, 410, "24%"), (767.3, 416, "Attack"), (769, 433.3, "24%"), (769, 439.3, "Both"),
    (742.7, 480, "94%"), (754, 486, "Not excited"), (756, 492.3, "by behaviors"), (772.3, 498.7, "(<2σ)"),
    (712.7, 518.3, "6%"), (717.3, 524.7, "Excited"), (729, 531, "by behaviors"), (726.7, 537.3, "(>2σ)"),
    (765, 564, "19%"), (765, 570.7, "Attack"), (791, 577.7, "7%"), (791, 584, "Both"),
]
for px, py, s in pie_text:
    txt(px, py, s, size=6)
for px, py, s in [(740.7, 426.7, "52%"), (741, 433.3, "USV$^{-}$"), (741, 583.3, "74%"), (741, 589.3, "USV$^{-}$")]:
    txt(px, py, s, size=6, color="white")

# Mount activity boxes
for rect, stats, ylim, yt, dots, ylab_y in [((64, 662.3, 126.7, 746.7), box_o, (0, 20), range(0, 25, 5), (cells_o_p, cells_o_m), 708),
                                            ((64, 766.7, 126.7, 850.3), box_p, (0, 15), range(0, 20, 5), (cells_p_p, cells_p_m), 820)]:
    ax = box_panel(*rect, stats, [GREEN2, USVM], ylim, yt, (84, 111.7), width=0.62)
    ax.set_xticks([0, 1])
    ax.set_xticklabels(["", ""])
    dot_df = pd.DataFrame({"group": ["0"] * len(dots[0]) + ["1"] * len(dots[1]), "value": dots[0] + dots[1]})
    sns.swarmplot(data=dot_df, x="group", y="value", color="#9a9a9a", size=1.8, alpha=0.85, warn_thresh=1, ax=ax, zorder=5)
    ax.set_xlabel("")
    ax.set_ylabel("")
    ax.set_xlim((64 - 84) / 27.7, (126.7 - 84) / 27.7)
    txt(46.7, ylab_y, "Activity during mount (σ)", size=6, rot=90)
txt(97, 668.5, "***", size=7.5, fontweight="bold", color="#222222")
txt(97, 780, "NS", size=6.3)

box(56.7, 621.7, 141.7, 652.7, fc="#efefef", ec="#8e8e8e", lw=1)
txt(99.3, 628, "Cells active >2σ during", size=5.8)
for y0, y1, col, sign in [(632.7, 642, GREEN2, "+"), (643.3, 651.7, USVM, "-")]:
    ov.add_patch(Rectangle((61, y0), 16.3, y1 - y0, fc=col, ec="#555555", lw=0.5))
    txt(79.3, (y0 + y1) / 2, "USV$^{%s}$ mount" % sign, size=5.8, ha="left")

# Section headers
ov.add_patch(Rectangle((160, 620.3), 238, 13.7, fc="#ebdcaa", ec="none"))
txt(279, 627, "USV$^{+}$ mount vs Attack", size=6.8)
ov.add_patch(Rectangle((420.7, 620.3), 238.3, 13.7, fc="#e3c6e6", ec="none"))
txt(540, 627, "USV$^{-}$ mount vs Attack", size=6.8)


def trace_panel(rect, data, shuf, line_col, band_col, top_vline=100):
    ax = px_axes(*rect)
    ax.fill_between(time_sec, np.array(shuf) - sem_shuf, np.array(shuf) + sem_shuf, color="#cfcfcf", lw=0, alpha=0.9)
    ax.fill_between(time_sec, np.array(data) - sem_data, np.array(data) + sem_data, color=band_col, lw=0, alpha=0.85)
    sns.lineplot(x=time_sec, y=shuf, color="#222222", lw=0.8, errorbar=None, ax=ax)
    sns.lineplot(x=time_sec, y=data, color=line_col, lw=0.9, errorbar=None, ax=ax)
    ax.plot([0, 0], [25, top_vline], color="#777777", lw=1)
    ax.set_xlim(-5, 10)
    ax.set_ylim(25, 100)
    ax.set_xticks([-5, 0, 5, 10])
    ax.set_yticks([40, 60, 80, 100])
    sns.despine(ax=ax)
    style_ticks(ax)


GOLD_LINE, GOLD_BAND, PUR_LINE, PUR_BAND = "#c9a227", "#ecdca0", "#b45fc4", "#dfbde6"
trace_panel((187.7, 647.7, 284.3, 727.3), q_data, q_shuf, GOLD_LINE, GOLD_BAND)
trace_panel((187.7, 765.7, 284.3, 845.3), r_data, r_shuf, GOLD_LINE, GOLD_BAND)
trace_panel((448.3, 647.7, 545.7, 727.3), u_data, u_shuf, PUR_LINE, PUR_BAND)
trace_panel((448.3, 766.7, 545.7, 846), v_data, v_shuf, PUR_LINE, PUR_BAND)
for lx, cx, y_a, y_b in [(164, 234, 687, 806.7), (425.7, 494, 687, 806.7)]:
    txt(lx, y_a, "Decoder accuracy (%)", size=6.3, rot=90)
    txt(lx, y_b, "Decoder accuracy (%)", size=6.3, rot=90)
    txt(cx, 745, "Time relative to behavior (sec)", size=6.2)
    txt(cx, 864.5, "Time relative to behavior (sec)", size=6.2)

for x0, band, line in [(193.3, GOLD_BAND, GOLD_LINE), (453.3, PUR_BAND, PUR_LINE)]:
    box(x0, 639, x0 + 69.4, 662.3, fc="#f0f0f0", ec="#8e8e8e", lw=1)
    ov.add_patch(Rectangle((x0 + 3, 643.5), 14.7, 5, fc=band, ec="none"))
    seg([x0 + 3, x0 + 17.7], [646, 646], color=line, lw=0.9)
    ov.add_patch(Rectangle((x0 + 3, 654.2), 14.7, 5, fc="#cfcfcf", ec="none"))
    seg([x0 + 3, x0 + 17.7], [656.7, 656.7], color="#222222", lw=0.9)
    txt(x0 + 20.7, 646, "Data", size=5.8, ha="left")
    txt(x0 + 20.7, 656.7, "Shuffled data", size=5.8, ha="left")


def bar_panel(rect, means, sems, dots, col):
    ax = px_axes(*rect)
    df = pd.DataFrame({"kind": bar_names, "acc": means})
    sns.barplot(data=df, x="kind", y="acc", hue="kind", palette=[col, "#cccccc"], width=0.8, edgecolor="#555555", linewidth=1.1,
                saturation=1, legend=False, ax=ax)
    ax.errorbar([0, 1], means, yerr=sems, fmt="none", ecolor="#222222", elinewidth=0.8, capsize=2.5, capthick=0.8, zorder=4)
    dot_df = pd.DataFrame({"kind": ["Data"] * len(dots[0]) + ["Shuffled"] * len(dots[1]), "acc": dots[0] + dots[1]})
    sns.swarmplot(data=dot_df, x="kind", y="acc", color="#333333", size=2.2, warn_thresh=1, ax=ax, zorder=5)
    ax.axhline(50, color="#777777", lw=0.9, ls=(0, (4, 3)), zorder=6)
    ax.set_xlim(-1.345, 2.05)
    ax.set_ylim(0, 100)
    ax.set_yticks([0, 25, 50, 75, 100])
    ax.set_xticks([0, 1])
    ax.set_xticklabels(bar_names, rotation=30, ha="right", rotation_mode="anchor", fontsize=6)
    ax.set_xlabel("")
    ax.set_ylabel("")
    sns.despine(ax=ax)
    style_ticks(ax)
    ax.tick_params(axis="x", length=0, labelsize=6)


bar_panel((321.7, 662.3, 397.4, 729), bars_s, sem_s, dots_s, GOLD)
bar_panel((321.7, 779.3, 397.4, 846.3), bars_t, sem_t, dots_t, GOLD)
bar_panel((585, 662.3, 660.7, 729), bars_w, sem_w, dots_w, PURPLE)
bar_panel((585, 779.3, 660.7, 846.3), bars_x, sem_x, dots_x, PURPLE)
for lx, ya, yb in [(302.7, 700, 816), (563.3, 700, 816)]:
    txt(lx, ya, "Decoder accuracy (%)", size=6.3, rot=90)
    txt(lx, yb, "Decoder accuracy (%)", size=6.3, rot=90)
txt(361.7, 661, "****", size=7.5, fontweight="bold", color="#222222")
txt(362.3, 784.5, "****", size=7.5, fontweight="bold", color="#222222")
txt(623, 665, "NS", size=6.3)
txt(623, 789, "NS", size=6.3)

fig.savefig("out.png", dpi=100)
